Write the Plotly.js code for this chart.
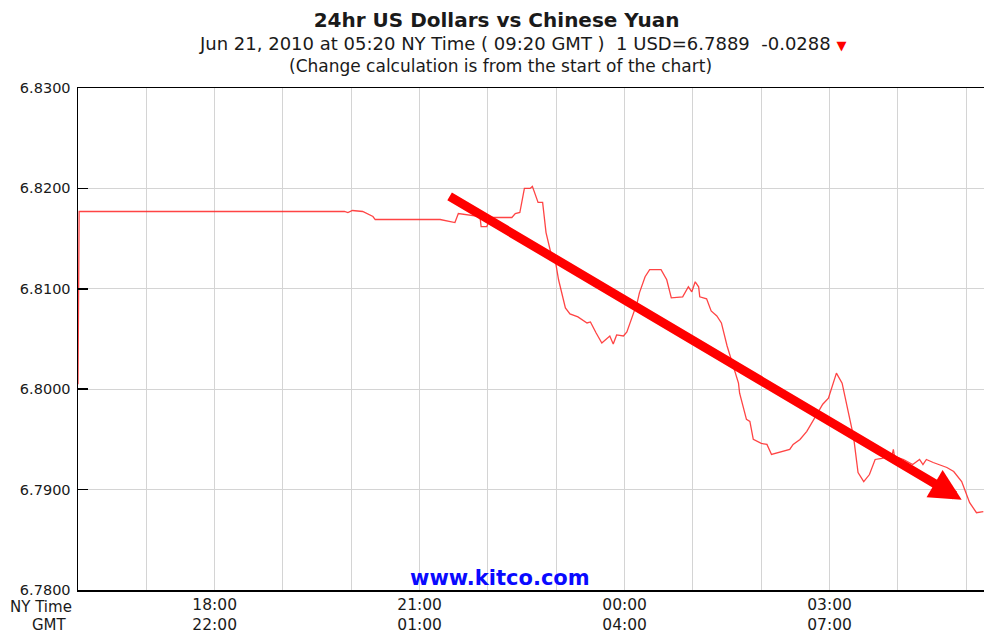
<!DOCTYPE html>
<html>
<head>
<meta charset="utf-8">
<script src="https://cdn.plot.ly/plotly-3.0.1.min.js"></script>
<style>
  html, body { margin: 0; padding: 0; background: #fff; }
  #chart { width: 984px; height: 633px; }
</style>
</head>
<body>
<div id="chart"></div>
<script>
// ---- data (NY time) ----
var times = [
  '2010-06-20 16:00', '2010-06-20 16:01', '2010-06-20 19:54', '2010-06-20 19:57',
  '2010-06-20 20:01', '2010-06-20 20:10', '2010-06-20 20:19', '2010-06-20 20:21',
  '2010-06-20 21:18', '2010-06-20 21:31', '2010-06-20 21:34', '2010-06-20 21:50',
  '2010-06-20 21:53', '2010-06-20 21:54', '2010-06-20 21:59', '2010-06-20 22:02',
  '2010-06-20 22:21', '2010-06-20 22:24', '2010-06-20 22:28', '2010-06-20 22:32',
  '2010-06-20 22:37', '2010-06-20 22:39', '2010-06-20 22:40', '2010-06-20 22:44',
  '2010-06-20 22:48', '2010-06-20 22:51', '2010-06-20 22:56', '2010-06-20 22:59',
  '2010-06-20 23:02', '2010-06-20 23:08', '2010-06-20 23:12', '2010-06-20 23:19',
  '2010-06-20 23:27', '2010-06-20 23:30', '2010-06-20 23:35', '2010-06-20 23:40',
  '2010-06-20 23:47', '2010-06-20 23:50', '2010-06-20 23:53', '2010-06-20 23:59',
  '2010-06-21 00:02', '2010-06-21 00:05', '2010-06-21 00:11', '2010-06-21 00:13',
  '2010-06-21 00:18', '2010-06-21 00:22', '2010-06-21 00:32', '2010-06-21 00:37',
  '2010-06-21 00:41', '2010-06-21 00:51', '2010-06-21 00:56', '2010-06-21 00:59',
  '2010-06-21 01:02', '2010-06-21 01:05', '2010-06-21 01:06', '2010-06-21 01:12',
  '2010-06-21 01:16', '2010-06-21 01:21', '2010-06-21 01:25', '2010-06-21 01:30',
  '2010-06-21 01:35', '2010-06-21 01:40', '2010-06-21 01:41', '2010-06-21 01:47',
  '2010-06-21 01:50', '2010-06-21 01:53', '2010-06-21 02:00', '2010-06-21 02:05',
  '2010-06-21 02:09', '2010-06-21 02:16', '2010-06-21 02:25', '2010-06-21 02:28',
  '2010-06-21 02:34', '2010-06-21 02:40', '2010-06-21 02:46', '2010-06-21 02:54',
  '2010-06-21 02:59', '2010-06-21 03:03', '2010-06-21 03:06', '2010-06-21 03:11',
  '2010-06-21 03:16', '2010-06-21 03:21', '2010-06-21 03:25', '2010-06-21 03:30',
  '2010-06-21 03:35', '2010-06-21 03:40', '2010-06-21 03:46', '2010-06-21 03:55',
  '2010-06-21 03:56', '2010-06-21 03:57', '2010-06-21 04:05', '2010-06-21 04:13',
  '2010-06-21 04:19', '2010-06-21 04:22', '2010-06-21 04:25', '2010-06-21 04:31',
  '2010-06-21 04:43', '2010-06-21 04:49', '2010-06-21 04:56', '2010-06-21 05:00',
  '2010-06-21 05:03', '2010-06-21 05:09', '2010-06-21 05:15'
];
var rates = [
  6.8005, 6.8177, 6.8177, 6.8176,
  6.8178, 6.8177, 6.8172, 6.8169,
  6.8169, 6.8166, 6.8175, 6.8173,
  6.8172, 6.8162, 6.8162, 6.8171,
  6.8171, 6.8175, 6.8176, 6.8200,
  6.8200, 6.8202, 6.8199, 6.8186,
  6.8186, 6.8156, 6.8132, 6.8129,
  6.8109, 6.8081, 6.8075, 6.8072,
  6.8066, 6.8067, 6.8056, 6.8046,
  6.8053, 6.8045, 6.8054, 6.8053,
  6.8057, 6.8066, 6.8086, 6.8096,
  6.8112, 6.8119, 6.8119, 6.8109,
  6.8091, 6.8092, 6.8102, 6.8097,
  6.8107, 6.8102, 6.8092, 6.8090,
  6.8078, 6.8073, 6.8066, 6.8043,
  6.8024, 6.8006, 6.7996, 6.7970,
  6.7968, 6.7950, 6.7946, 6.7945,
  6.7935, 6.7937, 6.7940, 6.7945,
  6.7950, 6.7958, 6.7970, 6.7985,
  6.7991, 6.8006, 6.8016, 6.8006,
  6.7980, 6.7953, 6.7917, 6.7908,
  6.7915, 6.7930, 6.7931, 6.7935,
  6.7940, 6.7933, 6.7930, 6.7925,
  6.7930, 6.7925, 6.7930, 6.7927,
  6.7922, 6.7918, 6.7908, 6.7897,
  6.7887, 6.7877, 6.7878
];

// hourly grid positions and their labels (NY / GMT)
var hourTicks = [
  '2010-06-20 16:00', '2010-06-20 17:00', '2010-06-20 18:00', '2010-06-20 19:00',
  '2010-06-20 20:00', '2010-06-20 21:00', '2010-06-20 22:00', '2010-06-20 23:00',
  '2010-06-21 00:00', '2010-06-21 01:00', '2010-06-21 02:00', '2010-06-21 03:00',
  '2010-06-21 04:00', '2010-06-21 05:00'
];
var nyLabels  = ['', '', '18:00', '', '', '21:00', '', '', '00:00', '', '', '03:00', '', ''];
var gmtLabels = ['', '', '22:00', '', '', '01:00', '', '', '04:00', '', '', '07:00', '', ''];

var yTicks = [6.78, 6.79, 6.80, 6.81, 6.82, 6.83];

// trend arrow (annotation, start and tip)
var arrowFrom = { t: '2010-06-20 21:25', v: 6.8193 };
var arrowTo   = { t: '2010-06-21 04:56', v: 6.7890 };

var tickText = nyLabels.map(function (ny, i) {
  return ny ? ny + '<br>' + gmtLabels[i] : '';
});

var FONT = 'DejaVu Sans, Liberation Sans, Arial, sans-serif';
var TXT = '#1a1a1a';

var trace = {
  x: times,
  y: rates,
  type: 'scatter',
  mode: 'lines',
  line: { color: 'rgba(255,35,35,0.85)', width: 1.3 },
  hoverinfo: 'x+y'
};

var layout = {
  width: 984,
  height: 633,
  margin: { l: 78, r: 0, t: 88, b: 43 },
  paper_bgcolor: '#ffffff',
  plot_bgcolor: '#ffffff',
  showlegend: false,
  font: { family: FONT, color: TXT, size: 15 },
  title: {
    text: '<b>24hr US Dollars vs Chinese Yuan</b>',
    font: { family: FONT, size: 20, color: TXT },
    x: 0.5046, xanchor: 'center',
    y: 1 - 20 / 633, yref: 'container', yanchor: 'middle'
  },
  xaxis: {
    type: 'date',
    range: ['2010-06-20 16:00', '2010-06-21 05:15:36'],
    tickmode: 'array',
    tickvals: hourTicks,
    ticktext: tickText,
    ticks: '',
    showgrid: true,
    gridcolor: '#d4d4d4',
    gridwidth: 1,
    showline: true,
    linecolor: '#000000',
    linewidth: 1.5,
    mirror: true,
    zeroline: false,
    tickfont: { family: FONT, size: 15.5, color: TXT },
    ticklabelstandoff: 0,
    fixedrange: true
  },
  yaxis: {
    range: [6.78, 6.83],
    tickmode: 'array',
    tickvals: yTicks,
    tickformat: '.4f',
    ticks: 'inside',
    ticklen: 10,
    tickwidth: 1.5,
    tickcolor: '#000000',
    showgrid: true,
    gridcolor: '#d4d4d4',
    gridwidth: 1,
    showline: true,
    linecolor: '#000000',
    linewidth: 1.5,
    zeroline: false,
    tickfont: { family: FONT, size: 14.5, color: TXT },
    ticklabelstandoff: 3,
    fixedrange: true
  },
  annotations: [
    {
      xref: 'paper', yref: 'paper', x: 0.491, y: (590.3 - 44) / 502,
      xanchor: 'center', yanchor: 'middle', showarrow: false,
      text: 'Jun 21, 2010 at 05:20 NY Time ( 09:20 GMT )  1 USD=6.7889  -0.0288 <span style="color:#ff0000;font-size:13px">▼</span>',
      font: { family: FONT, size: 18, color: TXT }
    },
    {
      xref: 'paper', yref: 'paper', x: 0.466, y: (590.3 - 66) / 502,
      xanchor: 'center', yanchor: 'middle', showarrow: false,
      text: '(Change calculation is from the start of the chart)',
      font: { family: FONT, size: 17, color: TXT }
    },
    {
      xref: 'paper', yref: 'paper', x: 0.466, y: (590.3 - 578) / 502,
      xanchor: 'center', yanchor: 'middle', showarrow: false,
      text: '<b>www.kitco.com</b>',
      font: { family: FONT, size: 21, color: '#0a0aff' }
    },
    {
      xref: 'paper', yref: 'paper', x: (74 - 78.3) / 905.7, y: (590.3 - 607) / 502,
      xanchor: 'right', yanchor: 'middle', showarrow: false,
      text: 'NY Time',
      font: { family: FONT, size: 15, color: TXT }
    },
    {
      xref: 'paper', yref: 'paper', x: (69 - 78.3) / 905.7, y: (590.3 - 625.5) / 502,
      xanchor: 'right', yanchor: 'middle', showarrow: false,
      text: 'GMT',
      font: { family: FONT, size: 15, color: TXT }
    },
    {
      xref: 'x', yref: 'y', axref: 'x', ayref: 'y',
      x: arrowTo.t, y: arrowTo.v,
      ax: arrowFrom.t, ay: arrowFrom.v,
      text: '', showarrow: true,
      arrowhead: 2, arrowsize: 0.7, arrowwidth: 9,
      arrowcolor: '#ff0000', standoff: 0, startstandoff: 0
    }
  ]
};

Plotly.newPlot('chart', [trace], layout, { displayModeBar: false, staticPlot: true });
</script>
</body>
</html>
